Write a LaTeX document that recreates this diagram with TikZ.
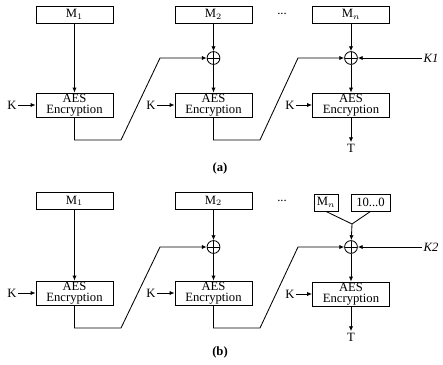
\documentclass[tikz,border=0pt]{standalone}
\usepackage{fontspec}
\setmainfont{Liberation Serif}
\usetikzlibrary{arrows.meta}
\tikzset{
  msg/.style={draw,line width=0.6pt,minimum width=1.925cm,minimum height=0.425cm,inner sep=0pt},
  pad/.style={draw,line width=0.6pt,minimum height=0.425cm,inner sep=0pt},
  aes/.style={draw,line width=0.6pt,align=center,minimum width=1.925cm,minimum height=0.6cm,
    inner sep=0pt,font=\small\linespread{0.75}\selectfont},
  xor/.style={circle,draw,line width=0.6pt,minimum size=0.32cm,inner sep=0pt,
    path picture={\draw[line width=0.6pt] (path picture bounding box.north) -- (path picture bounding box.south)
      (path picture bounding box.west) -- (path picture bounding box.east);}},
  edge/.style={-{Latex[length=3.5pt,width=3pt]},line width=0.6pt},
  wire/.style={line width=0.6pt},
  lbl/.style={inner sep=1pt,font=\small},
  capt/.style={font=\small\bfseries},
  every node/.style={font=\small}
}

\begin{document}
\begin{tikzpicture}[x=0.025cm,y=-0.025cm]
\useasboundingbox (0,0) rectangle (443,364);
% (a) message blocks
\node[msg] (m1a) at (74.5,14.5) {M$_1$};
\node[msg] (m2a) at (213.5,14.5) {M$_2$};
\node (dota) at (282,14) {...};
\node[msg] (mna) at (351,14.5) {M$_n$};
\node[xor] (x2a) at (213.5,58) {};
\node[xor] (x3a) at (351,58) {};
\node[aes] (e1a) at (74.5,105) {AES\\Encryption};
\node[aes] (e2a) at (213.5,105) {AES\\Encryption};
\node[aes] (e3a) at (351,105) {AES\\Encryption};
\node[lbl] (k1a) at (12,105) {K};
\node[lbl] (k2a) at (151,105) {K};
\node[lbl] (k3a) at (290,105) {K};
\node[lbl] (kka) at (431,58) {\textit{K1}};
\node[lbl] (ta) at (351,148) {T};
\node[capt] (capa) at (220,168) {(a)};
\coordinate (b1a) at (121,140);
\coordinate (u1a) at (160,58);
\coordinate (b2a) at (260,140);
\coordinate (u2a) at (298,58);
% (a) chaining
\draw[edge] (m1a) -- (e1a);
\draw[edge] (m2a) -- (x2a);
\draw[edge] (x2a) -- (e2a);
\draw[edge] (mna) -- (x3a);
\draw[edge] (x3a) -- (e3a);
\draw[edge] (k1a) -- (e1a);
\draw[edge] (k2a) -- (e2a);
\draw[edge] (k3a) -- (e3a);
\draw[edge] (kka) -- (x3a);
\draw[edge] (e3a) -- (ta);
\draw[edge] (e1a.south) |- (b1a) -- (u1a) -- (x2a);
\draw[edge] (e2a.south) |- (b2a) -- (u2a) -- (x3a);

% (b) message blocks
\node[msg] (m1b) at (74.5,201) {M$_1$};
\node[msg] (m2b) at (213.5,201) {M$_2$};
\node (dotb) at (282,201) {...};
\node[pad,minimum width=0.6cm] (mnb) at (326,202.5) {M$_n$};
\node[pad,minimum width=0.975cm] (zb) at (370.5,202.5) {10...0};
\coordinate (jb) at (352,224);
\node[xor] (x2b) at (213.5,247) {};
\node[xor] (x3b) at (351,247) {};
\node[aes] (e1b) at (74.5,293) {AES\\Encryption};
\node[aes] (e2b) at (213.5,293) {AES\\Encryption};
\node[aes] (e3b) at (351,294) {AES\\Encryption};
\node[lbl] (k1b) at (12,293) {K};
\node[lbl] (k2b) at (151,293) {K};
\node[lbl] (k3b) at (290,294) {K};
\node[lbl] (kkb) at (431,247) {\textit{K2}};
\node[lbl] (tb) at (351,337) {T};
\node[capt] (capb) at (220,352) {(b)};
\coordinate (b1b) at (121,328);
\coordinate (u1b) at (160,247);
\coordinate (b2b) at (260,328);
\coordinate (u2b) at (298,247);
% (b) chaining
\draw[edge] (m1b) -- (e1b);
\draw[edge] (m2b) -- (x2b);
\draw[edge] (x2b) -- (e2b);
\draw[wire] (mnb.south) -- (jb) -- (zb.south);
\draw[edge] (jb) -- (x3b);
\draw[edge] (x3b) -- (e3b);
\draw[edge] (k1b) -- (e1b);
\draw[edge] (k2b) -- (e2b);
\draw[edge] (k3b) -- (e3b);
\draw[edge] (kkb) -- (x3b);
\draw[edge] (e3b) -- (tb);
\draw[edge] (e1b.south) |- (b1b) -- (u1b) -- (x2b);
\draw[edge] (e2b.south) |- (b2b) -- (u2b) -- (x3b);
\end{tikzpicture}
\end{document}
